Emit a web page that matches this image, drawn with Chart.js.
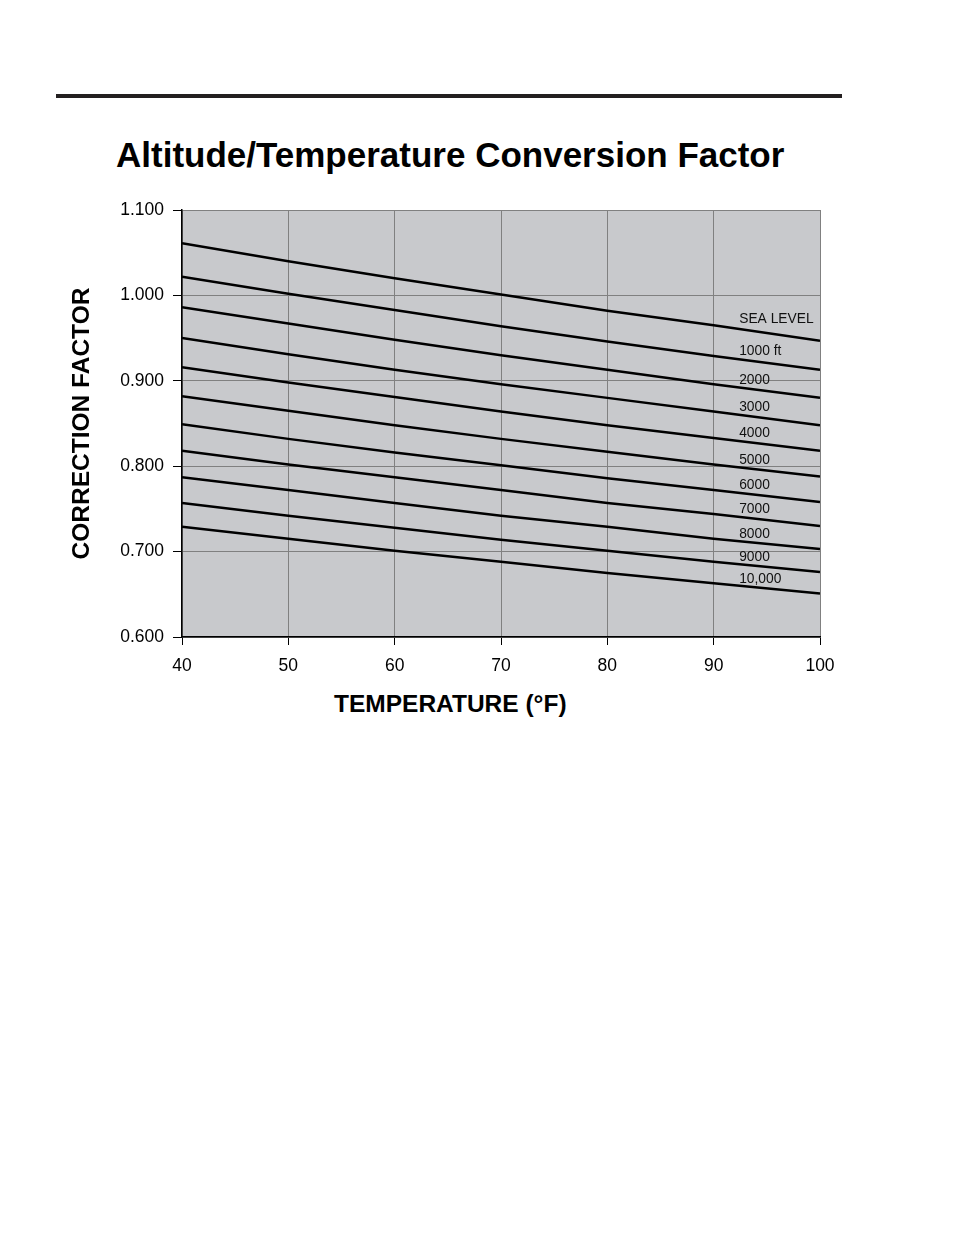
<!DOCTYPE html>
<html>
<head>
<meta charset="utf-8">
<script src="https://cdn.jsdelivr.net/npm/chart.js@4.4.1/dist/chart.umd.min.js"></script>
<style>
  body { margin: 0; background: #fff; width: 954px; height: 1235px; position: relative; font-family: "Liberation Sans", Arial, sans-serif; }
  .rule { position: absolute; left: 56px; top: 94px; width: 786px; height: 4px; background: #231f20; }
  .title { position: absolute; left: 116px; top: 137px; font-size: 35px; line-height: 35px; font-weight: bold; color: #000; white-space: nowrap; }
  .xtitle { position: absolute; left: 334px; top: 692px; font-size: 24.5px; line-height: 24.5px; font-weight: bold; color: #000; white-space: nowrap; }
  #chartWrap { position: absolute; left: 0; top: 190px; width: 954px; height: 540px; }
</style>
</head>
<body>
<div class="rule"></div>
<div class="title">Altitude/Temperature Conversion Factor</div>
<div class="xtitle">TEMPERATURE (°F)</div>
<div id="chartWrap"><canvas id="chart" width="954" height="540"></canvas></div>
<script>
// temperature (°F) along the x axis
const temps = [40, 50, 60, 70, 80, 90, 100];

// correction factor, one array per altitude
const seaLevel = [1.061, 1.040, 1.020, 1.001, 0.982, 0.965, 0.947];
const alt1000  = [1.022, 1.002, 0.983, 0.964, 0.946, 0.929, 0.913];
const alt2000  = [0.986, 0.967, 0.948, 0.930, 0.913, 0.896, 0.880];
const alt3000  = [0.950, 0.931, 0.913, 0.896, 0.880, 0.864, 0.848];
const alt4000  = [0.916, 0.898, 0.881, 0.864, 0.848, 0.833, 0.818];
const alt5000  = [0.882, 0.865, 0.848, 0.832, 0.817, 0.802, 0.788];
const alt6000  = [0.849, 0.832, 0.816, 0.801, 0.786, 0.772, 0.758];
const alt7000  = [0.818, 0.802, 0.787, 0.772, 0.757, 0.744, 0.730];
const alt8000  = [0.787, 0.772, 0.757, 0.742, 0.729, 0.715, 0.703];
const alt9000  = [0.757, 0.742, 0.728, 0.714, 0.701, 0.688, 0.676];
const alt10000 = [0.729, 0.715, 0.701, 0.688, 0.675, 0.663, 0.651];

const altitudeLabels = ['SEA LEVEL', '1000 ft', '2000', '3000', '4000', '5000', '6000', '7000', '8000', '9000', '10,000'];
const series = [seaLevel, alt1000, alt2000, alt3000, alt4000, alt5000, alt6000, alt7000, alt8000, alt9000, alt10000];

const yTicks = [0.6, 0.7, 0.8, 0.9, 1.0, 1.1];

// grey plot background
const plotBackground = {
    id: 'plotBackground',
    beforeDraw(chart) {
        const { ctx, chartArea: a } = chart;
        ctx.save();
        ctx.fillStyle = '#c8c9cc';
        ctx.fillRect(a.left, a.top, a.right - a.left, a.bottom - a.top);
        ctx.restore();
    }
};

// altitude names written just above each line, near the right edge
const lineLabels = {
    id: 'lineLabels',
    afterDatasetsDraw(chart) {
        const { ctx, scales: { x, y } } = chart;
        ctx.save();
        ctx.font = '13.8px "Liberation Sans", Arial, sans-serif';
        ctx.fillStyle = '#111';
        ctx.textAlign = 'left';
        ctx.textBaseline = 'middle';
        const px = x.getPixelForValue(92.4);
        series.forEach((s, i) => {
            const off = i === 0 ? 6.5 : 4.5;
            const py = y.getPixelForValue(s[5]) - off;
            ctx.fillText(altitudeLabels[i], px, py);
        });
        ctx.restore();
    }
};

const ctx = document.getElementById('chart').getContext('2d');
new Chart(ctx, {
    type: 'line',
    data: {
        datasets: series.map((s, i) => ({
            label: altitudeLabels[i],
            data: temps.map((t, j) => ({ x: t, y: s[j] })),
            borderColor: '#000',
            borderWidth: 2.5,
            pointRadius: 0,
            fill: false,
            tension: 0
        }))
    },
    options: {
        responsive: false,
        devicePixelRatio: 1,
        animation: false,
        layout: { padding: { left: 0, top: 20, right: 134, bottom: 33 } },
        plugins: {
            legend: { display: false },
            tooltip: { enabled: false }
        },
        scales: {
            x: {
                type: 'linear',
                min: 40,
                max: 100,
                afterFit: (scale) => { scale.height = 60; },
                ticks: {
                    stepSize: 10,
                    color: '#000',
                    padding: 11,
                    font: { family: '"Liberation Sans", Arial, sans-serif', size: 17.5 }
                },
                grid: { color: '#808080', lineWidth: 1, tickColor: '#000', tickLength: 8 },
                border: { color: '#000', width: 1.5 }
            },
            y: {
                min: 0.6,
                max: 1.1,
                afterFit: (scale) => { scale.width = 182; },
                afterBuildTicks: (scale) => { scale.ticks = yTicks.map(v => ({ value: v })); },
                ticks: {
                    color: '#000',
                    padding: 9,
                    callback: (v) => Number(v).toFixed(3),
                    font: { family: '"Liberation Sans", Arial, sans-serif', size: 17.5 }
                },
                grid: { color: '#808080', lineWidth: 1, tickColor: '#000', tickLength: 9 },
                border: { color: '#000', width: 1.5 },
                title: {
                    display: true,
                    text: 'CORRECTION FACTOR',
                    color: '#000',
                    padding: { top: 68, bottom: 0 },
                    font: { family: '"Liberation Sans", Arial, sans-serif', size: 24.5, weight: 'bold' }
                }
            }
        }
    },
    plugins: [plotBackground, lineLabels]
});
</script>
</body>
</html>
